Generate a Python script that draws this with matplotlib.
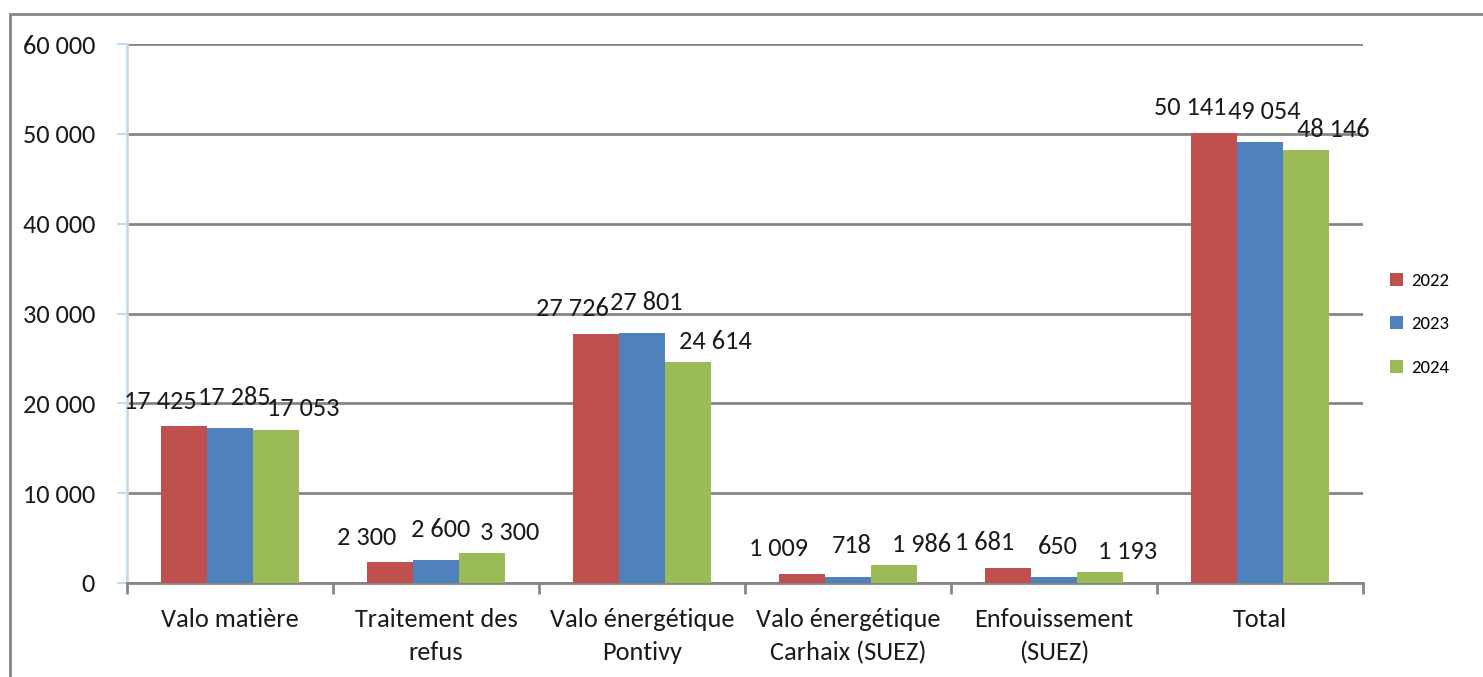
import numpy as np
import matplotlib.pyplot as plt
from matplotlib.patches import Rectangle
from matplotlib.ticker import FuncFormatter

plt.rcParams['font.family'] = ['Carlito', 'Liberation Sans Narrow', 'DejaVu Sans']

# Données
categories = ['Valo matière', 'Traitement des\nrefus', 'Valo énergétique\nPontivy',
              'Valo énergétique\nCarhaix (SUEZ)', 'Enfouissement\n(SUEZ)', 'Total']
annees = ['2022', '2023', '2024']
v2022 = [17425, 2300, 27726, 1009, 1681, 50141]
v2023 = [17285, 2600, 27801, 718, 650, 49054]
v2024 = [17053, 3300, 24614, 1986, 1193, 48146]
couleurs = ['#C0504D', '#4F81BD', '#9BBB59']

def fmt(v, pos=None):
    return f'{int(v):,}'.replace(',', ' ')

fig = plt.figure(figsize=(14.83, 6.77), dpi=100)
ax = fig.add_axes([127 / 1483, 94 / 677, 1236 / 1483, 539 / 677])

# cadre gris autour du graphique
fig.patches.append(Rectangle((10 / 1483, -0.1), 1.2, (663 / 677) + 0.1, transform=fig.transFigure,
                             fill=False, edgecolor='#868686', linewidth=2))

x = np.arange(len(categories))
largeur = 0.223
decal_x = [-17, 3, 20]
decal_y = [18, 22, 15]
for i, (vals, annee) in enumerate(zip([v2022, v2023, v2024], annees)):
    pos = x + (i - 1) * largeur
    ax.bar(pos, vals, largeur, color=couleurs[i], label=annee, zorder=3)
    for px, v in zip(pos, vals):
        ax.annotate(fmt(v), (px, v), xytext=(decal_x[i], decal_y[i]), textcoords='offset points',
                    ha='center', va='center', fontsize=19, color='#1a1a1a', zorder=4)

ax.set_xlim(-0.5, len(categories) - 0.5)
ax.set_ylim(0, 60000)
ax.set_yticks(np.arange(0, 60001, 10000))
ax.yaxis.set_major_formatter(FuncFormatter(fmt))
ax.grid(axis='y', color='#868686', linewidth=2, zorder=0)

ax.set_xticks(x)
ax.set_xticklabels(categories, fontsize=19, color='#1a1a1a', linespacing=1.5)
ax.set_xticks(np.arange(-0.5, len(categories)), minor=True)
ax.tick_params(axis='x', which='major', length=0, pad=18)
ax.tick_params(axis='x', which='minor', length=8, width=2, color='#868686')
ax.tick_params(axis='y', length=7, width=1.5, color='#C6D9F1', labelsize=19,
               labelcolor='#1a1a1a', pad=16)

for s in ['top', 'right']:
    ax.spines[s].set_visible(False)
ax.spines['left'].set_color('#C6D9F1')
ax.spines['left'].set_linewidth(2)
ax.spines['bottom'].set_color('#868686')
ax.spines['bottom'].set_linewidth(2)

leg = ax.legend(loc='center left', bbox_to_anchor=(1.008, 0.48), frameon=False,
                fontsize=13.5, handlelength=0.7, handleheight=0.7, labelspacing=1.45,
                handletextpad=0.45)

plt.savefig('out.png', dpi=100)
